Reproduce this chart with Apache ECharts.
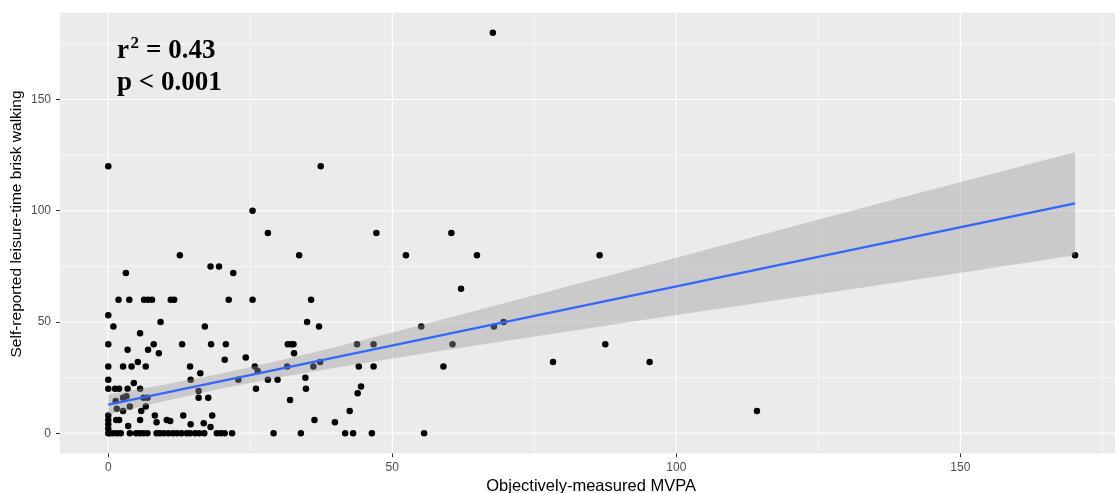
<!DOCTYPE html>
<html>
<head>
<meta charset="utf-8">
<script src="https://cdn.jsdelivr.net/npm/echarts@6/dist/echarts.min.js"></script>
<style>
html,body{margin:0;padding:0;background:#fff;}
#chart{width:1115px;height:493px;}
</style>
</head>
<body>
<div id="chart"></div>
<script>
// ---- data ----
const mvpa = [
  0,37.4,67.7,25.4,28.1,47.2,60.4,12.6,33.6,52.4,64.9,86.5,170.2,18.0,19.5,3.1,22.0,62.1,
  1.8,3.7,6.3,7.0,7.7,11.0,11.6,21.2,25.4,35.7,
  0,0.9,17.0,37.1,55.1,67.9,9.2,35.0,69.6,5.6,
  0,8.0,13.0,18.1,20.7,31.6,32.2,32.6,43.8,46.7,60.6,87.5,
  3.4,7.0,8.9,32.7,20.5,24.2,5.2,37.3,78.3,95.3,
  0,2.6,4.1,6.6,14.4,25.8,31.5,36.1,44.1,46.7,59.0,
  26.3,16.2,0,14.5,22.9,28.1,29.8,34.7,4.5,44.5,
  0,1.2,1.9,3.4,5.6,26.0,34.8,15.9,43.9,
  2.6,3.2,6.2,6.9,15.9,17.6,32.0,1.3,3.8,6.6,1.5,2.6,5.8,42.5,114.2,
  0,8.2,13.2,18.3,0,1.4,1.9,5.6,8.5,10.3,10.9,36.3,39.9,14.5,16.8,0,3.5,18.0,0,
  0,0.3,0.9,1.6,2.2,3.8,4.9,5.6,6.2,6.9,8.5,9.1,9.8,10.6,11.4,12.1,12.9,13.8,14.4,15.3,16.0,16.9,19.1,19.8,20.5,21.8,29.1,33.9,41.7,43.1,46.4,55.6
];
const walking = [
  120,120,180,100,90,90,90,80,80,80,80,80,80,75,75,72,72,65,
  60,60,60,60,60,60,60,60,60,60,
  53,48,48,48,48,48,50,50,50,45,
  40,40,40,40,40,40,40,40,40,40,40,40,
  37.5,37.5,36,36,33,34,32,32,32,32,
  30,30,30,30,30,30,30,30,30,30,30,
  28,27,24,24,24,24,24,25,22.6,21,
  20,20,20,20,20,20,20,19,18,
  16,16.6,16,16,16,16,15,14.5,12,12,11,10,10,10,10,
  8,8,8,8,6,6,6,6,5,6,5.5,6,5,4,4.5,4,3.3,2.8,2,
  0,0,0,0,0,0,0,0,0,0,0,0,0,0,0,0,0,0,0,0,0,0,0,0,0,0,0,0,0,0,0,0
];
// fitted line and 95% band
const fitX = [0, 170.2];
const fitY = [12.9, 103.3];
const bandX = [0,10,20,30,40,50,60,80,100,120,140,170.2];
const bandLower = [8.4,14.5,20.1,25.1,29.5,33.6,37.6,45.4,53.1,60.7,68.2,80.0];
const bandUpper = [17.4,21.9,26.9,32.6,38.8,45.3,51.9,65.4,78.9,92.6,106.2,126.3];
// ticks and gridlines
const xTicks = [0,50,100,150];
const yTicks = [0,50,100,150];
const xMinor = [25,75,125,175];
const yMinor = [25,75,125,175];
const xTitle = 'Objectively-measured MVPA';
const yTitle = 'Self-reported leisure-time brisk walking';

const X_MIN = -8.5, X_MAX = 178.5, Y_MIN = -9, Y_MAX = 189;

const points = mvpa.map((x, i) => [x, walking[i]]);
const gridData = [];
xTicks.forEach(v => gridData.push([v, 0, 1, 1]));
xMinor.forEach(v => gridData.push([v, 0, 1, 0]));
yTicks.forEach(v => gridData.push([0, v, 0, 1]));
yMinor.forEach(v => gridData.push([0, v, 0, 0]));
const bandData = bandX.map((x, i) => [x, bandLower[i], bandUpper[i]]);

const chart = echarts.init(document.getElementById('chart'), null, {renderer: 'canvas'});
const sans = '"Liberation Sans", Arial, sans-serif';
const axisLabelStyle = {color: '#4D4D4D', fontSize: 12, fontFamily: sans};
const serif = '"Liberation Serif", "Times New Roman", serif';
chart.setOption({
  animation: false,
  backgroundColor: '#ffffff',
  grid: {left: 60, right: -7.2, top: 12.7, bottom: 39.7, show: true, backgroundColor: '#EBEBEB', borderWidth: 0,
         containLabel: false, outerBoundsMode: 'none'},
  xAxis: {
    type: 'value', min: X_MIN, max: X_MAX,
    name: xTitle, nameLocation: 'middle', nameGap: 23,
    nameTextStyle: {color: '#000', fontSize: 16.5, fontFamily: sans},
    axisLine: {show: false, onZero: false},
    axisTick: {show: true, length: 4, lineStyle: {color: '#333333', width: 1}, customValues: xTicks},
    axisLabel: Object.assign({margin: 8, customValues: xTicks}, axisLabelStyle),
    splitLine: {show: false}
  },
  yAxis: {
    type: 'value', min: Y_MIN, max: Y_MAX,
    axisLine: {show: false, onZero: false},
    axisTick: {show: true, length: 4, lineStyle: {color: '#333333', width: 1}, customValues: yTicks},
    axisLabel: Object.assign({margin: 9, customValues: yTicks}, axisLabelStyle),
    splitLine: {show: false}
  },
  series: [
    {
      type: 'custom', z: 1, silent: true, clip: true,
      data: gridData,
      renderItem: function (params, api) {
        const item = gridData[params.dataIndex];
        const vertical = item[2] === 1;
        const major = item[3] === 1;
        let p1, p2;
        if (vertical) { p1 = api.coord([item[0], Y_MIN]); p2 = api.coord([item[0], Y_MAX]); }
        else { p1 = api.coord([X_MIN, item[1]]); p2 = api.coord([X_MAX, item[1]]); }
        return {type: 'line', shape: {x1: p1[0], y1: p1[1], x2: p2[0], y2: p2[1]},
          style: {stroke: '#FFFFFF', lineWidth: major ? 1.2 : 0.6}};
      }
    },
    {
      type: 'scatter', z: 3, silent: true,
      data: points, symbol: 'circle', symbolSize: 6.5,
      itemStyle: {color: '#000000', opacity: 1}
    },
    {
      type: 'custom', z: 4, silent: true,
      data: bandData,
      renderItem: function (params, api) {
        if (params.dataIndex !== 0) return null;
        const pts = [];
        for (let i = 0; i < bandData.length; i++) pts.push(api.coord([bandData[i][0], bandData[i][2]]));
        for (let i = bandData.length - 1; i >= 0; i--) pts.push(api.coord([bandData[i][0], bandData[i][1]]));
        return {type: 'polygon', shape: {points: pts}, style: {fill: 'rgba(153,153,153,0.4)'}};
      }
    },
    {
      type: 'line', z: 5, silent: true,
      data: fitX.map((x, i) => [x, fitY[i]]),
      showSymbol: false, symbol: 'none',
      lineStyle: {color: '#3366FF', width: 2.2}
    }
  ],
  graphic: [
    {type: 'text', x: 16.5, y: 224, rotation: Math.PI / 2, z: 10,
     style: {text: yTitle, font: '15.5px ' + sans, fill: '#000', align: 'center', verticalAlign: 'middle'}},
    {type: 'text', left: 117, top: 38, z: 10, style: {text: 'r', font: 'bold 27px ' + serif, fill: '#000'}},
    {type: 'text', left: 130.5, top: 35, z: 10, style: {text: '2', font: 'bold 17px ' + serif, fill: '#000'}},
    {type: 'text', left: 146, top: 38, z: 10, style: {text: '= 0.43', font: 'bold 27px ' + serif, fill: '#000'}},
    {type: 'text', left: 117, top: 70, z: 10, style: {text: 'p < 0.001', font: 'bold 27px ' + serif, fill: '#000'}}
  ]
});
</script>
</body>
</html>
